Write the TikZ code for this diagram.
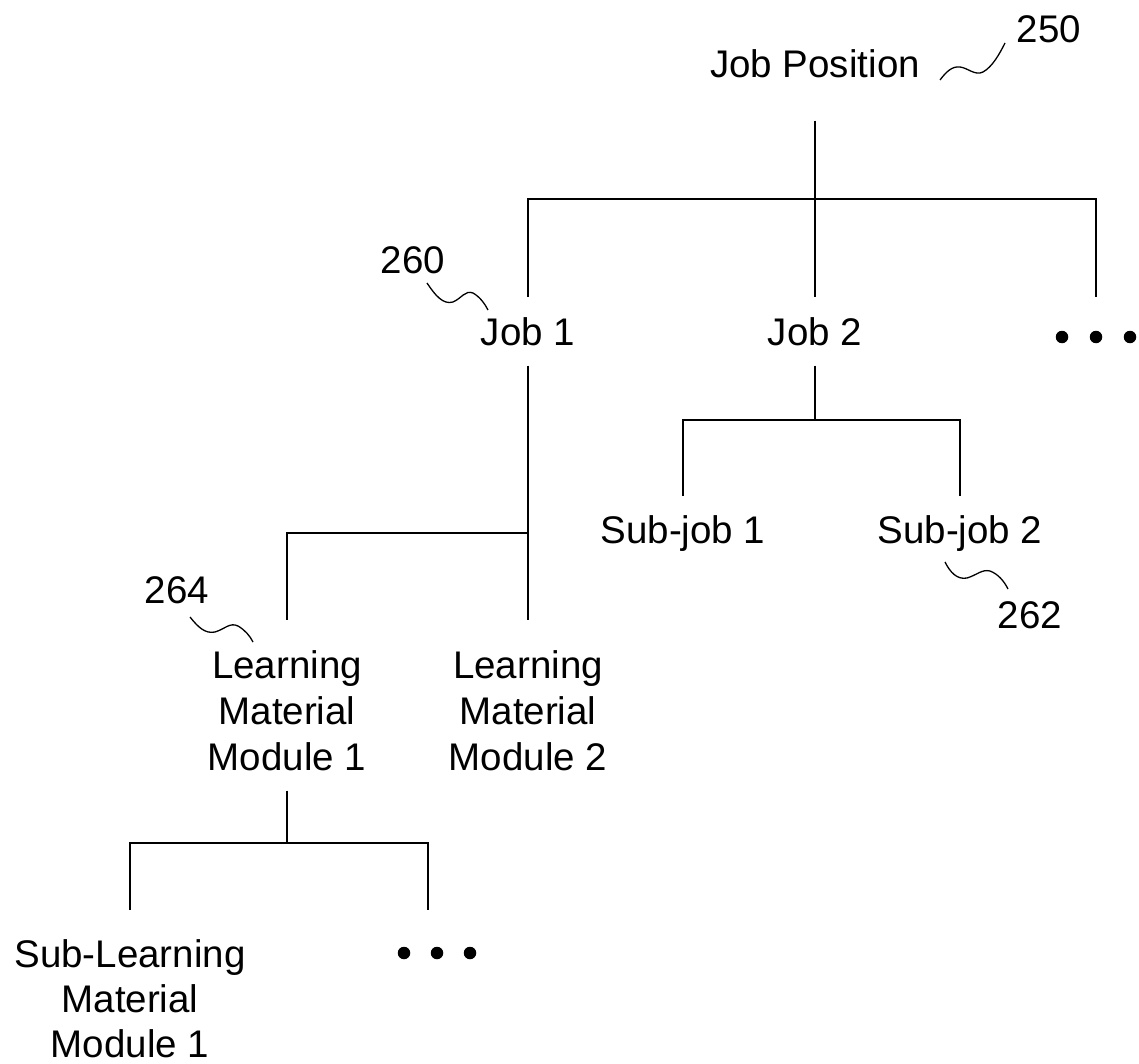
\documentclass[tikz,border=0pt]{standalone}
\usepackage{fontspec}
\setmainfont{Liberation Sans}
\begin{document}
\begin{tikzpicture}[x=1pt,y=-1pt,
  lbl/.style={font={\fontsize{38.5}{46}\selectfont}, inner sep=0pt, anchor=base},
  ml/.style={font={\fontsize{38.5}{46}\selectfont}, inner sep=0pt, anchor=north, align=center},
  mlb/.style={font={\fontsize{38.5}{45}\selectfont}, inner sep=0pt, anchor=north, align=center},
  conn/.style={line width=1.4pt},
  lead/.style={line width=1.3pt},
  tdot/.style={circle, fill=black, inner sep=0pt, minimum size=12.5pt}]
\useasboundingbox (0,0) rectangle (1139,1064);
% nodes
\node[lbl] (jp) at (815,78) {Job Position};
\node[lbl] (n250) at (1049,43) {250};
\node[lbl] (j1) at (528,345) {Job 1};
\node[lbl] (n260) at (413,273) {260};
\node[lbl] (j2) at (815,345) {Job 2};
\node[tdot] (d1) at (1062,337) {};
\node[tdot] (d2) at (1096,337) {};
\node[tdot] (d3) at (1130,337) {};
\node[lbl] (sj1) at (683,543) {Sub-job 1};
\node[lbl] (sj2) at (960,543) {Sub-job 2};
\node[lbl] (n262) at (1030,628) {262};
\node[ml] (lm1) at (287,650) {Learning\\Material\\Module 1};
\node[ml] (lm2) at (528,650) {Learning\\Material\\Module 2};
\node[lbl] (n264) at (177,603) {264};
\node[mlb] (slm) at (130,939) {Sub-Learning\\Material\\Module 1};
\node[tdot] (d4) at (404,953) {};
\node[tdot] (d5) at (437,953) {};
\node[tdot] (d6) at (470,953) {};
% junction coordinates
\coordinate (b0) at (815,199);
\coordinate (b1) at (528,533);
\coordinate (b2) at (815,420);
\coordinate (b3) at (287,843);
\coordinate (e5) at (428,910);
% connectors
\draw[conn] ([yshift=-42pt]jp.south) -- ([yshift=20pt]j2.north);
\draw[conn] ([yshift=20pt]j1.north) -- (j1 |- b0) -- (d2 |- b0) -- ([yshift=34pt]d2.north);
\draw[conn] ([yshift=-20pt]j1.south) -- ([yshift=30pt]lm2.north);
\draw[conn] (b1) -- (lm1 |- b1) -- ([yshift=30pt]lm1.north);
\draw[conn] ([yshift=-20pt]j2.south) -- (b2);
\draw[conn] ([yshift=19pt]sj1.north) -- (sj1 |- b2) -- (sj2 |- b2) -- ([yshift=19pt]sj2.north);
\draw[conn] ([yshift=-20pt]lm1.south) -- (b3);
\draw[conn] ([yshift=29pt]slm.north) -- (slm |- b3) -- (e5 |- b3) -- (e5);
% leader squiggles
\draw[lead] (940,80) .. controls (946,72) and (952,66) .. (960,67) .. controls (968,68) and (975,76) .. (983,72) .. controls (992,67) and (999,55) .. (1005,43);
\draw[lead] (427,283) .. controls (435,295) and (443,305) .. (453,302) .. controls (462,298) and (465,290) .. (473,293) .. controls (480,297) and (485,304) .. (488,310);
\draw[lead] (190,617) .. controls (198,627) and (205,634) .. (215,632) .. controls (225,629) and (230,622) .. (238,626) .. controls (245,630) and (250,636) .. (253,642);
\draw[lead] (945,562) .. controls (950,572) and (957,580) .. (967,578) .. controls (977,575) and (982,569) .. (990,571) .. controls (998,574) and (1004,581) .. (1008,589);
\end{tikzpicture}
\end{document}
